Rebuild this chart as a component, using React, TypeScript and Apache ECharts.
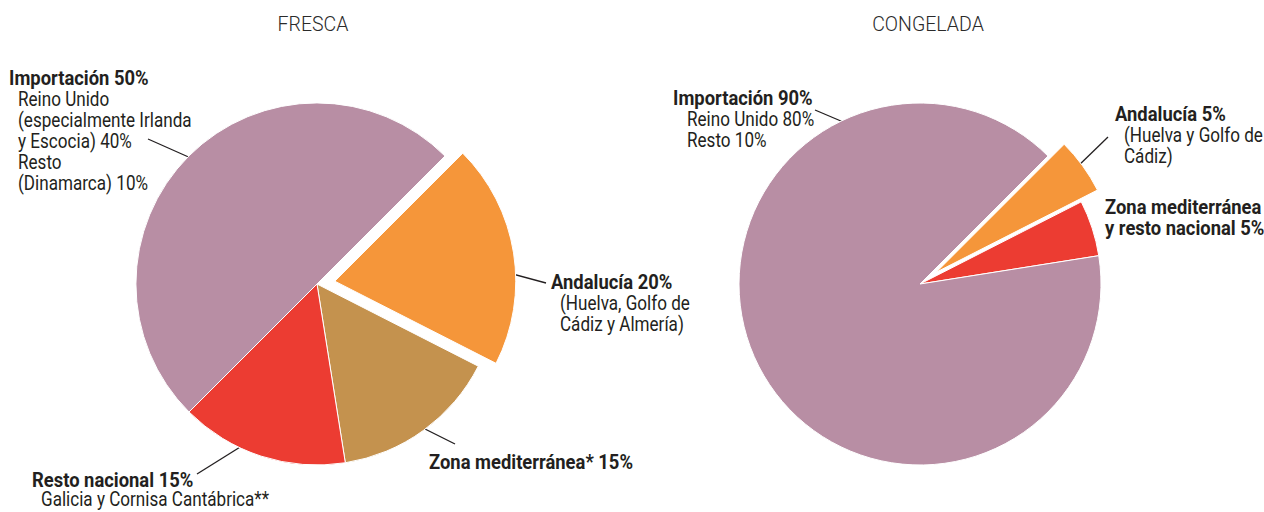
import React, { useEffect, useRef } from "react";
import * as echarts from "echarts";

// ---- Data ----
const titles = ["FRESCA", "CONGELADA"];

const categoriesFresca = ["Andalucía", "Zona mediterránea*", "Resto nacional", "Importación"];
const valuesFresca = [20, 15, 15, 50];
const detailsFresca = [
  ["(Huelva, Golfo de", "Cádiz y Almería)"],
  [],
  ["Galicia y Cornisa Cantábrica**"],
  ["Reino Unido", "(especialmente Irlanda", "y Escocia) 40%", "Resto", "(Dinamarca) 10%"],
];

const categoriesCongelada = ["Andalucía", "Zona mediterránea\ny resto nacional", "Importación"];
const valuesCongelada = [5, 5, 90];
const detailsCongelada = [["(Huelva y Golfo de", "Cádiz)"], [], ["Reino Unido 80%", "Resto 10%"]];

// ---- Styles / layout ----
const MAUVE = "#b88ea4";
const ORANGE = "#f5963a";
const TAN = "#c4924e";
const RED = "#ec3c32";
const TEXT = "#231f20";
const FONT = "Roboto, 'Liberation Sans', sans-serif";
const FS = 20;
const SX_BOLD = 0.92;
const SX_REG = 0.855;

const colorsFresca = [ORANGE, TAN, RED, MAUVE];
const colorsCongelada = [ORANGE, RED, MAUVE];

// label layout per slice: x,y of headline, indent of detail lines, leader line
const layoutFresca = [
  { x: 551, y: 282, indent: 9, lh: 21.5, line: [498, 270, 546, 283] },
  { x: 429, y: 462, indent: 9, lh: 21, line: [417, 425, 455, 444] },
  { x: 32, y: 480, indent: 9, lh: 20, line: [197, 474, 245, 444] },
  { x: 9, y: 78, indent: 9, lh: 21.2, line: [148, 139, 202, 163] },
];
const layoutCongelada = [
  { x: 1115, y: 114, indent: 9, lh: 21.5, line: [1108, 137, 1074, 170] },
  { x: 1105, y: 207, indent: 0, lh: 21, line: null },
  { x: 673, y: 98, indent: 14, lh: 21.5, line: [815, 110, 855, 127] },
];

function txt(text: string, x: number, y: number, bold: boolean) {
  return {
    type: "text",
    x,
    y,
    scaleX: bold ? SX_BOLD : SX_REG,
    style: {
      text,
      fill: TEXT,
      fontFamily: FONT,
      fontSize: FS,
      fontWeight: bold ? "bold" : "normal",
      textVerticalAlign: "middle",
    },
  };
}

function buildLabels(cats: string[], vals: number[], details: string[][], layout: any[]) {
  const els: any[] = [];
  cats.forEach((c, i) => {
    const L = layout[i];
    const head = `${c} ${vals[i]}%`.split("\n");
    let y = L.y;
    head.forEach((h) => {
      els.push(txt(h, L.x, y, true));
      y += L.lh;
    });
    details[i].forEach((d) => {
      els.push(txt(d, L.x + L.indent, y, false));
      y += L.lh;
    });
    if (L.line) {
      els.push({
        type: "line",
        shape: { x1: L.line[0], y1: L.line[1], x2: L.line[2], y2: L.line[3] },
        style: { stroke: TEXT, lineWidth: 1.3 },
      });
    }
  });
  return els;
}

function pieData(cats: string[], vals: number[], colors: string[]) {
  return cats.map((c, i) => ({
    name: c,
    value: vals[i],
    selected: i === 0,
    itemStyle: { color: colors[i] },
    select: { itemStyle: { color: colors[i] } },
  }));
}

const titlePos = [
  { x: 313, y: 24 },
  { x: 928, y: 24 },
];

export default function App() {
  const ref = useRef<HTMLDivElement>(null);
  useEffect(() => {
    if (!ref.current) return;
    const chart = echarts.init(ref.current, null, { renderer: "svg" });
    const common = {
      type: "pie",
      radius: 181,
      startAngle: 45,
      clockwise: true,
      selectedMode: "multiple",
      label: { show: false },
      labelLine: { show: false },
      emphasis: { disabled: true },
      itemStyle: { borderColor: "#fff", borderWidth: 1 },
      silent: true,
    };
    chart.setOption({
      animation: false,
      series: [
        {
          ...common,
          center: [317, 284],
          selectedOffset: 18,
          data: pieData(categoriesFresca, valuesFresca, colorsFresca),
        },
        {
          ...common,
          center: [920, 284],
          selectedOffset: 20,
          data: pieData(categoriesCongelada, valuesCongelada, colorsCongelada),
        },
      ],
      graphic: [
        ...titles.map((t, i) => ({
          type: "text",
          x: titlePos[i].x,
          y: titlePos[i].y,
          scaleX: 0.93,
          style: {
            text: t,
            fill: "#2a2a2a",
            fontFamily: FONT,
            fontSize: 21,
            fontWeight: 300,
            textAlign: "center",
            textVerticalAlign: "middle",
          },
        })),
        ...buildLabels(categoriesFresca, valuesFresca, detailsFresca, layoutFresca),
        ...buildLabels(categoriesCongelada, valuesCongelada, detailsCongelada, layoutCongelada),
      ],
    });
    return () => chart.dispose();
  }, []);
  return (
    <div
      ref={ref}
      style={{ position: "fixed", left: 0, top: 0, width: 1264, height: 512, background: "#fff" }}
    />
  );
}
